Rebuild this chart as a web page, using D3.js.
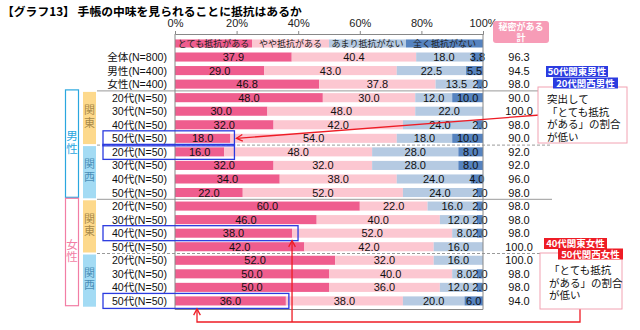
<!DOCTYPE html>
<html>
<head>
<meta charset="utf-8">
<script src="https://cdn.jsdelivr.net/npm/d3@7"></script>
<style>
  body { margin: 0; background: #fff; }
  svg { font-family: "Liberation Sans", Arial, "Noto Sans CJK JP", sans-serif; }
  .vtext { writing-mode: vertical-rl; font-family: "Noto Sans CJK JP", sans-serif; }
</style>
</head>
<body>
<div id="chart"></div>
<script>
// row labels, top to bottom
const rowLabels = [
  "全体(N=800)", "男性(N=400)", "女性(N=400)",
  "20代(N=50)", "30代(N=50)", "40代(N=50)", "50代(N=50)",
  "20代(N=50)", "30代(N=50)", "40代(N=50)", "50代(N=50)",
  "20代(N=50)", "30代(N=50)", "40代(N=50)", "50代(N=50)",
  "20代(N=50)", "30代(N=50)", "40代(N=50)", "50代(N=50)"
];
const seriesNames = ["とても抵抗がある", "やや抵抗がある", "あまり抵抗がない", "全く抵抗がない"];
const seriesColors = ["#ef5d8e", "#fcc7d1", "#b5cae2", "#5683bf"];

const veryMuch = [37.9, 29.0, 46.8, 48.0, 30.0, 32.0, 18.0, 16.0, 32.0, 34.0, 22.0, 60.0, 46.0, 38.0, 42.0, 52.0, 50.0, 50.0, 36.0];
const somewhat = [40.4, 43.0, 37.8, 30.0, 48.0, 42.0, 54.0, 48.0, 32.0, 38.0, 52.0, 22.0, 40.0, 52.0, 42.0, 32.0, 40.0, 36.0, 38.0];
const notMuch  = [18.0, 22.5, 13.5, 12.0, 22.0, 24.0, 18.0, 28.0, 28.0, 24.0, 24.0, 16.0, 12.0, 8.0, 16.0, 16.0, 8.0, 12.0, 20.0];
const notAtAll = [3.8, 5.5, 2.0, 10.0, 0, 2.0, 10.0, 8.0, 8.0, 4.0, 2.0, 2.0, 2.0, 2.0, 0, 0, 2.0, 2.0, 6.0];
const secretTotal = [96.3, 94.5, 98.0, 90.0, 100.0, 98.0, 90.0, 92.0, 92.0, 96.0, 98.0, 98.0, 98.0, 98.0, 100.0, 100.0, 98.0, 98.0, 94.0];

const tickValues = [0, 20, 40, 60, 80, 100];

// side group blocks (row index ranges)
const genderGroups = [
  { name: "男性", from: 3, to: 10, color: "#2aa7df" },
  { name: "女性", from: 11, to: 18, color: "#f27ea5" }
];
const regionGroups = [
  { name: "関東", from: 3, to: 6, fill: "#fdd98c", text: "#a88a4a" },
  { name: "関西", from: 7, to: 10, fill: "#a3dbf4", text: "#4a8fb8" },
  { name: "関東", from: 11, to: 14, fill: "#fdd98c", text: "#a88a4a" },
  { name: "関西", from: 15, to: 18, fill: "#a3dbf4", text: "#4a8fb8" }
];
const solidAfter = [2, 10];
const dashedAfter = [6, 14];

const W = 640, H = 330;
const svg = d3.select("#chart").append("svg").attr("width", W).attr("height", H);

const x = d3.scaleLinear().domain([0, 100]).range([175, 483]);
const y = d3.scaleBand()
  .domain(d3.range(-1, rowLabels.length))
  .range([36.7, 307.7])
  .paddingInner(0.33)
  .paddingOuter(0.165);
const step = y.step();
const cy = (i) => y(i) + y.bandwidth() / 2;

// title
svg.append("text")
  .attr("x", 2).attr("y", 16)
  .style("font-family", "'Noto Sans CJK JP', sans-serif")
  .style("font-weight", "bold")
  .style("font-size", "11.8px")
  .text("【グラフ13】 手帳の中味を見られることに抵抗はあるか");

// stacked segments
const rows = rowLabels.map((label, i) => {
  const vals = [veryMuch[i], somewhat[i], notMuch[i], notAtAll[i]];
  let acc = 0;
  return vals.map((v, k) => {
    const seg = { row: i, k: k, v: v, x0: acc, x1: acc + v };
    acc += v;
    return seg;
  });
});
const segs = rows.flat();

// legend bar sits in the row above the data
const legend = svg.append("g");
seriesNames.forEach((name, k) => {
  legend.append("rect")
    .attr("x", x(k * 25)).attr("y", y(-1) + 0.5)
    .attr("width", x(25) - x(0)).attr("height", y.bandwidth() - 1)
    .attr("fill", seriesColors[k]);
  legend.append("text")
    .attr("x", x(k * 25 + 12.5)).attr("y", cy(-1) + 3.3)
    .attr("text-anchor", "middle")
    .style("font-family", "'Noto Sans CJK JP', sans-serif")
    .style("font-size", "9px")
    .attr("fill", "#222")
    .text(name);
});

// separators between groups
const sepY = (i) => cy(i) + step / 2;
solidAfter.forEach(i => {
  svg.append("line").attr("x1", 97).attr("x2", 552)
    .attr("y1", sepY(i)).attr("y2", sepY(i))
    .attr("stroke", "#9a9a9a").attr("stroke-width", 1);
});
dashedAfter.forEach(i => {
  svg.append("line").attr("x1", 97).attr("x2", 552)
    .attr("y1", sepY(i)).attr("y2", sepY(i))
    .attr("stroke", "#9a9a9a").attr("stroke-width", 1)
    .attr("stroke-dasharray", "3,2");
});

svg.append("g").selectAll("rect")
  .data(segs.filter(d => d.v > 0))
  .enter().append("rect")
  .attr("x", d => x(d.x0))
  .attr("y", d => y(d.row))
  .attr("width", d => x(d.x1) - x(d.x0))
  .attr("height", y.bandwidth())
  .attr("fill", d => seriesColors[d.k]);

svg.append("g").selectAll("text")
  .data(segs.filter(d => d.v > 0))
  .enter().append("text")
  .attr("x", d => x((d.x0 + d.x1) / 2))
  .attr("y", d => cy(d.row) + 4)
  .attr("text-anchor", "middle")
  .style("font-size", "11px")
  .attr("fill", "#111")
  .text(d => d.v.toFixed(1));

// frame and top axis
const plotTop = 34, plotBottom = 309.5;
svg.append("line").attr("x1", x(0)).attr("x2", x(0)).attr("y1", plotTop).attr("y2", plotBottom).attr("stroke", "#888");
svg.append("line").attr("x1", x(100)).attr("x2", x(100)).attr("y1", plotTop).attr("y2", plotBottom).attr("stroke", "#888");
svg.append("line").attr("x1", x(0)).attr("x2", x(100)).attr("y1", plotBottom).attr("y2", plotBottom).attr("stroke", "#888");

const xAxis = d3.axisTop(x).tickValues(tickValues).tickSize(3).tickPadding(4).tickFormat(d => d + "%");
const ax = svg.append("g").attr("transform", `translate(0,${plotTop})`).call(xAxis);
ax.select(".domain").attr("stroke", "#888");
ax.selectAll(".tick line").attr("stroke", "#888");
ax.selectAll("text").style("font-size", "11px").style("font-family", "'Liberation Sans', Arial, sans-serif").attr("fill", "#222");

// row labels
svg.append("g").selectAll("text")
  .data(rowLabels)
  .enter().append("text")
  .attr("x", 167)
  .attr("y", (d, i) => cy(i) + 4)
  .attr("text-anchor", "end")
  .style("font-size", "10.6px")
  .attr("fill", "#111")
  .text(d => d);

// gender boxes
genderGroups.forEach(g => {
  const y0 = cy(g.from) - step / 2 - 1;
  const y1 = cy(g.to) + step / 2 - 2;
  svg.append("rect").attr("x", 65.5).attr("y", y0).attr("width", 13).attr("height", y1 - y0)
    .attr("fill", "#fff").attr("stroke", g.color).attr("stroke-width", 1.2);
  svg.append("text").attr("class", "vtext")
    .attr("x", 72).attr("y", (y0 + y1) / 2 - 1)
    .attr("text-anchor", "middle")
    .style("font-size", "11.5px").style("letter-spacing", "1px")
    .attr("fill", g.color).text(g.name);
});

// region blocks
regionGroups.forEach(g => {
  const y0 = cy(g.from) - step / 2 + 1;
  const y1 = cy(g.to) + step / 2 - 1;
  svg.append("rect").attr("x", 83).attr("y", y0).attr("width", 13).attr("height", y1 - y0)
    .attr("fill", g.fill);
  svg.append("text").attr("class", "vtext")
    .attr("x", 89.5).attr("y", (y0 + y1) / 2 - 1)
    .attr("text-anchor", "middle")
    .style("font-size", "11px").style("letter-spacing", "1.5px")
    .attr("fill", g.text).text(g.name);
});

// right column: 秘密がある計
svg.append("rect").attr("x", 493).attr("y", 21).attr("width", 56).attr("height", 22).attr("rx", 3)
  .attr("fill", "#f79cb7");
svg.append("text").attr("x", 521).attr("y", 30).attr("text-anchor", "middle")
  .style("font-family", "'Noto Sans CJK JP', sans-serif").style("font-size", "9px").style("font-weight", "bold")
  .attr("fill", "#fff").text("秘密がある");
svg.append("text").attr("x", 521).attr("y", 41).attr("text-anchor", "middle")
  .style("font-family", "'Noto Sans CJK JP', sans-serif").style("font-size", "9px").style("font-weight", "bold")
  .attr("fill", "#fff").text("計");
svg.append("g").selectAll("text")
  .data(secretTotal)
  .enter().append("text")
  .attr("x", 519)
  .attr("y", (d, i) => cy(i) + 4)
  .attr("text-anchor", "middle")
  .style("font-size", "11px")
  .attr("fill", "#111")
  .text(d => d.toFixed(1));

// highlight boxes around notable rows
const hlBlue = "#2b3be0";
function highlight(i, right) {
  svg.append("rect").attr("x", 103).attr("y", cy(i) - 7.5)
    .attr("width", right - 103).attr("height", 15)
    .attr("fill", "none").attr("stroke", hlBlue).attr("stroke-width", 1.3);
}
const pairRight = x(Math.max(veryMuch[6], veryMuch[7])) + 4;
highlight(6, pairRight);
highlight(7, pairRight);
highlight(13, x(veryMuch[13]) + 6);
highlight(18, x(veryMuch[18]) + 3);

// callouts
const red = "#ee1c25";
function arrowHead(tx, ty, angle) {
  const a = 0.5, len = 7;
  const p1 = [tx + len * Math.cos(angle - a), ty + len * Math.sin(angle - a)];
  const p2 = [tx + len * Math.cos(angle + a), ty + len * Math.sin(angle + a)];
  svg.append("path").attr("d", `M${p1}L${tx},${ty}L${p2}`)
    .attr("fill", "none").attr("stroke", red).attr("stroke-width", 1.3);
}
function calloutBox(x0, y0, w, h, lines, ly0) {
  svg.append("rect").attr("x", x0).attr("y", y0).attr("width", w).attr("height", h)
    .attr("fill", "#fff").attr("stroke", "#f2a2b2").attr("stroke-width", 1);
  lines.forEach((t, j) => {
    svg.append("text").attr("x", x0 + 9).attr("y", ly0 + j * 12.5)
      .style("font-family", "'Noto Sans CJK JP', sans-serif").style("font-size", "10.5px")
      .attr("fill", "#111").text(t);
  });
}
function tag(x0, y0, w, text, color) {
  svg.append("rect").attr("x", x0).attr("y", y0).attr("width", w).attr("height", 11).attr("fill", color);
  svg.append("text").attr("x", x0 + w / 2).attr("y", y0 + 9).attr("text-anchor", "middle")
    .style("font-family", "'Noto Sans CJK JP', sans-serif").style("font-size", "9.5px").style("font-weight", "bold")
    .attr("fill", "#fff").text(text);
}

// men
const mStart = [pairRight + 2, cy(6)];
svg.append("line").attr("x1", mStart[0]).attr("y1", mStart[1]).attr("x2", 540).attr("y2", 115)
  .attr("stroke", red).attr("stroke-width", 1.3);
arrowHead(mStart[0], mStart[1], Math.atan2(115 - mStart[1], 540 - mStart[0]));
calloutBox(538, 87, 89, 56, ["突出して", "「とても抵抗", "がある」の割合", "が低い"], 103);
tag(546, 66, 62, "50代関東男性", hlBlue);
tag(553, 77.5, 65, "20代関西男性", hlBlue);

// women
const fx1 = x(veryMuch[13]), fTip1 = cy(13) + 7.5;
const fx2 = 197, fTip2 = cy(18) + 8;
const lineY = 322;
svg.append("path")
  .attr("d", `M${fx1},${fTip1}V${lineY}M${fx2},${fTip2}V${lineY}H580V309`)
  .attr("fill", "none").attr("stroke", red).attr("stroke-width", 1.3);
arrowHead(fx1, fTip1, Math.PI / 2);
arrowHead(fx2, fTip2, Math.PI / 2);
calloutBox(540, 253, 82, 56, ["「とても抵抗", "がある」の割合", "が低い"], 274);
tag(544, 238, 63, "40代関東女性", red);
tag(558, 248.5, 65, "50代関西女性", red);
</script>
</body>
</html>
